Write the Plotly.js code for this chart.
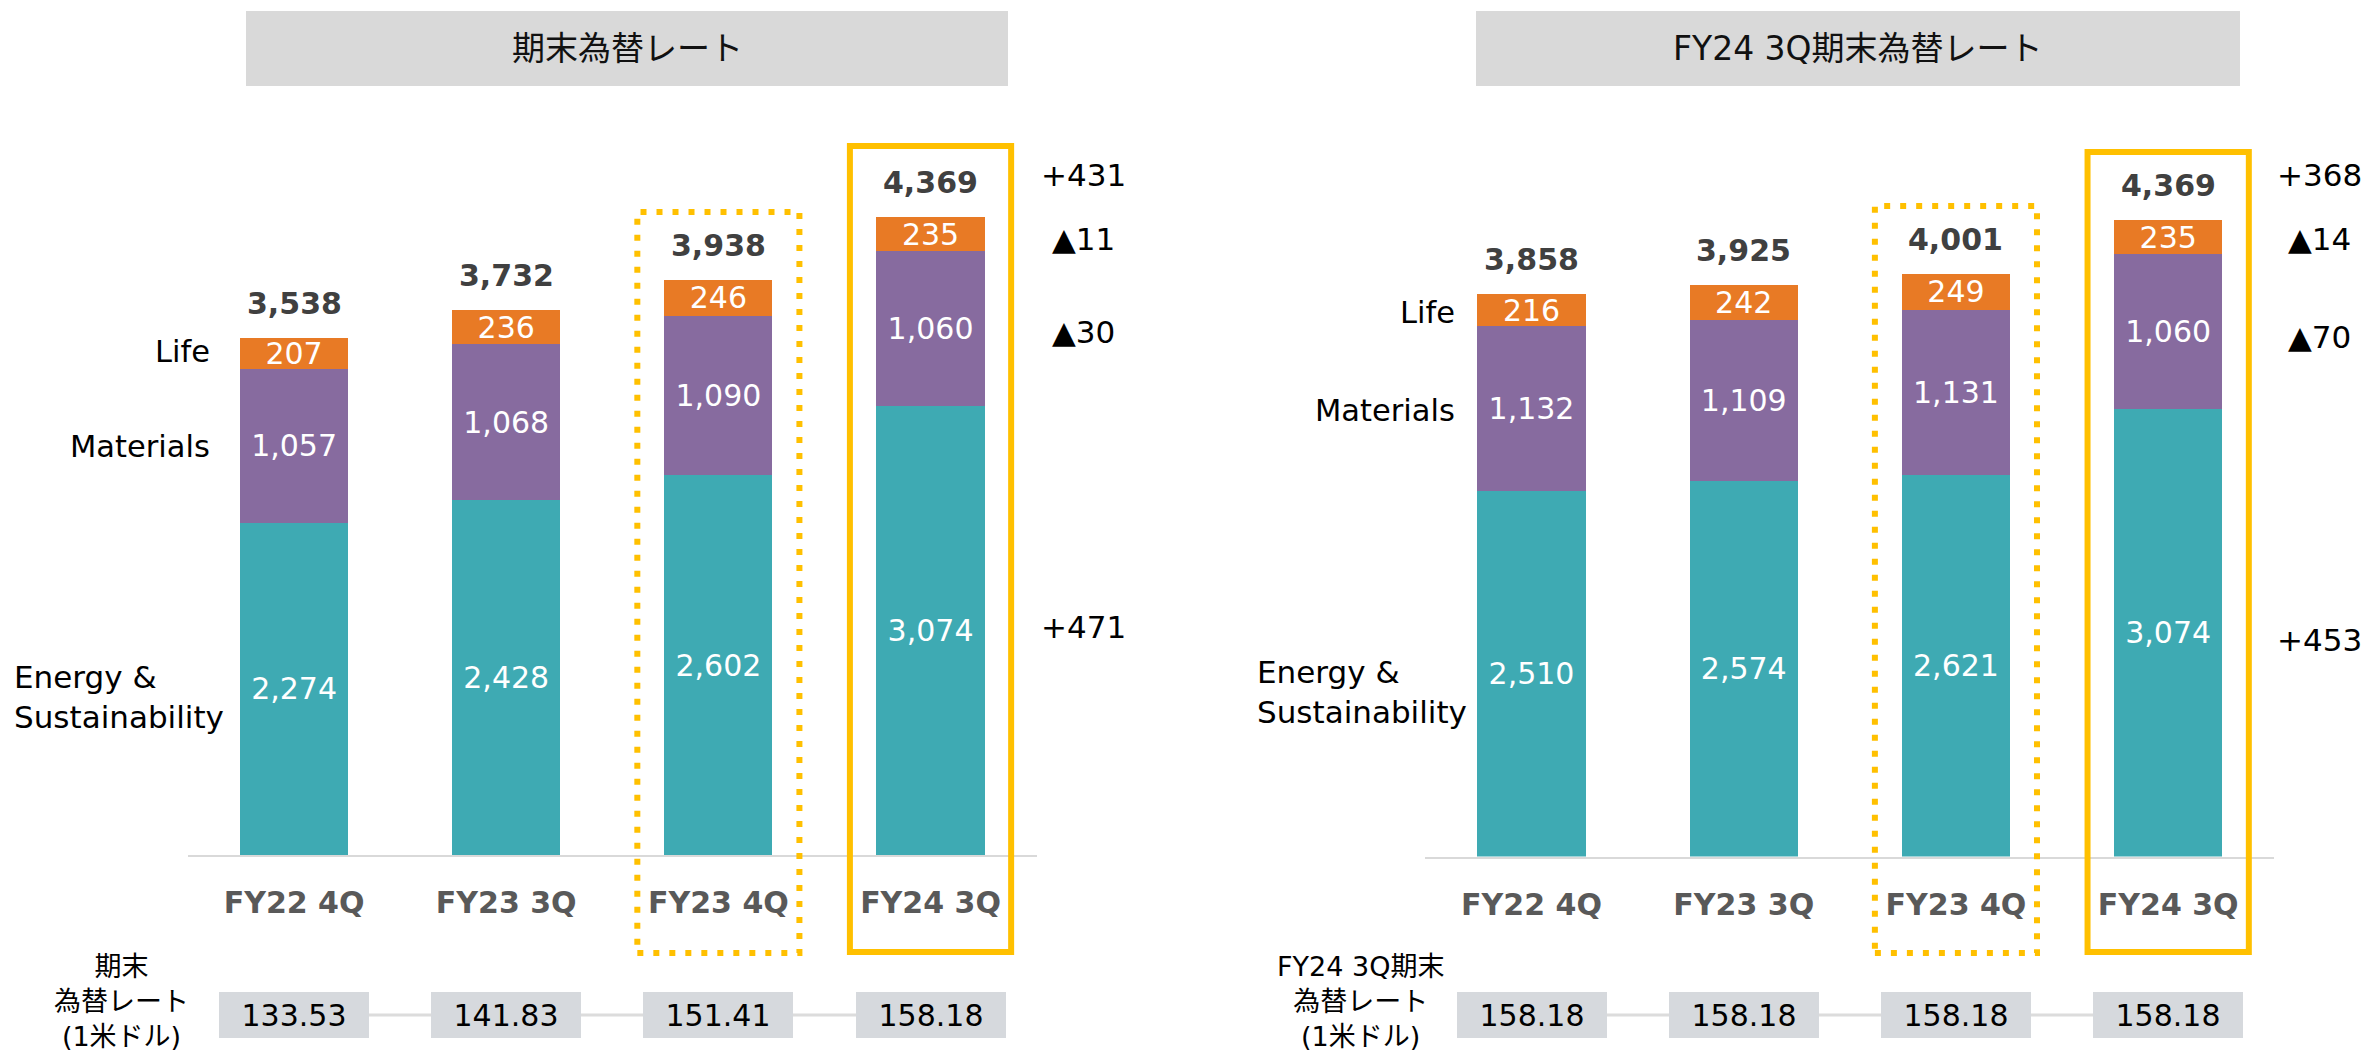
<!DOCTYPE html>
<html>
<head>
<meta charset="utf-8">
<script src="https://cdn.plot.ly/plotly-3.0.1.min.js"></script>
<style>
  html, body { margin: 0; padding: 0; background: #ffffff; }
  #chart { width: 2369px; height: 1052px; }
</style>
</head>
<body>
<div id="chart"></div>
<script>
// ---------------- DATA ----------------
const categories = ['FY22 4Q', 'FY23 3Q', 'FY23 4Q', 'FY24 3Q'];

// Left panel: 期末為替レート
const leftEnergy    = [2274, 2428, 2602, 3074];
const leftMaterials = [1057, 1068, 1090, 1060];
const leftLife      = [207, 236, 246, 235];
const leftTotals    = [3538, 3732, 3938, 4369];
const leftRates     = ['133.53', '141.83', '151.41', '158.18'];
const leftDeltas    = { total: '+431', life: '▲11', materials: '▲30', energy: '+471' };

// Right panel: FY24 3Q期末為替レート
const rightEnergy    = [2510, 2574, 2621, 3074];
const rightMaterials = [1132, 1109, 1131, 1060];
const rightLife      = [216, 242, 249, 235];
const rightTotals    = [3858, 3925, 4001, 4369];
const rightRates     = ['158.18', '158.18', '158.18', '158.18'];
const rightDeltas    = { total: '+368', life: '▲14', materials: '▲70', energy: '+453' };

const segmentNames = { life: 'Life', materials: 'Materials', energy: 'Energy &<br>Sustainability' };
const panelTitles  = ['期末為替レート', 'FY24 3Q期末為替レート'];
const rateLabels   = ['期末<br>為替レート<br>(1米ドル)', 'FY24 3Q期末<br>為替レート<br>(1米ドル)'];

// ---------------- STYLE ----------------
const W = 2369, H = 1052;
const FONT = "'DejaVu Sans', 'Noto Sans CJK JP', sans-serif";
const C_ENERGY = '#3EAAB3', C_MAT = '#876B9F', C_LIFE = '#E87A25';
const C_YELLOW = '#FFC000';
const fx = v => v / W;
const fy = v => 1 - v / H;
const fmt = v => v.toLocaleString('en-US');

function barTrace(vals, color, xa, ya) {
  return {
    type: 'bar', x: categories, y: vals, xaxis: xa, yaxis: ya,
    marker: { color: color, line: { width: 0 } },
    text: vals.map(fmt), textposition: 'inside', insidetextanchor: 'middle',
    textangle: 0, constraintext: 'none',
    textfont: { family: FONT, size: 30, color: '#ffffff' },
    hoverinfo: 'skip', showlegend: false
  };
}

const data = [
  barTrace(leftEnergy, C_ENERGY, 'x', 'y'),
  barTrace(leftMaterials, C_MAT, 'x', 'y'),
  barTrace(leftLife, C_LIFE, 'x', 'y'),
  barTrace(rightEnergy, C_ENERGY, 'x2', 'y2'),
  barTrace(rightMaterials, C_MAT, 'x2', 'y2'),
  barTrace(rightLife, C_LIFE, 'x2', 'y2')
];

const tickFont = { family: FONT, size: 30, color: '#595959', weight: 'bold' };
function xAxis(d0, d1, anchor) {
  return {
    domain: [fx(d0), fx(d1)], type: 'category', range: [-0.5, 3.5], anchor: anchor,
    showline: true, linecolor: '#D9D9D9', linewidth: 2, ticks: '',
    tickfont: tickFont, ticklabelstandoff: 20, showgrid: false, zeroline: false, fixedrange: true
  };
}
function yAxis(base, top, anchor) {
  return { domain: [fy(base), fy(top)], range: [0, 5000], visible: false, anchor: anchor, fixedrange: true };
}

const shapes = [];
const annotations = [];

const panels = [
  { xa: 'x', totals: leftTotals, rates: leftRates, deltas: leftDeltas,
    title: panelTitles[0], titleBox: [246, 1008], rateLabel: rateLabels[0], rateLabelX: 121,
    dottedTop: 212, solidTop: 146,
    deltaX: 1083, deltaY: { total: 175, life: 239, materials: 332, energy: 627 },
    nameRight: 212, nameY: { life: 351, materials: 446 }, energyX: 12, energyY: 697 },
  { xa: 'x2', totals: rightTotals, rates: rightRates, deltas: rightDeltas,
    title: panelTitles[1], titleBox: [1476, 2240], rateLabel: rateLabels[1], rateLabelX: 1360,
    dottedTop: 206, solidTop: 152,
    deltaX: 2319, deltaY: { total: 175, life: 239, materials: 337, energy: 640 },
    nameRight: 1457, nameY: { life: 312, materials: 410 }, energyX: 1255, energyY: 692 }
];

panels.forEach(p => {
  // title box
  shapes.push({ type: 'rect', xref: 'paper', yref: 'paper', x0: fx(p.titleBox[0]), x1: fx(p.titleBox[1]),
    y0: fy(86), y1: fy(11), fillcolor: '#D9D9D9', line: { width: 0 }, layer: 'below' });
  annotations.push({ xref: 'paper', yref: 'paper', x: fx((p.titleBox[0] + p.titleBox[1]) / 2), y: fy(48.5),
    text: p.title, showarrow: false, xanchor: 'center', yanchor: 'middle',
    font: { family: FONT, size: 33, color: '#111111' } });

  // highlight boxes
  shapes.push({ type: 'rect', xref: p.xa, yref: 'paper', x0: 2 - 0.382, x1: 2 + 0.382,
    y0: fy(953), y1: fy(p.dottedTop), line: { color: C_YELLOW, width: 6, dash: '6px,10px' }, fillcolor: 'rgba(0,0,0,0)' });
  shapes.push({ type: 'rect', xref: p.xa, yref: 'paper', x0: 3 - 0.38, x1: 3 + 0.38,
    y0: fy(952), y1: fy(p.solidTop), line: { color: C_YELLOW, width: 6 }, fillcolor: 'rgba(0,0,0,0)' });

  // rate connecting line
  shapes.push({ type: 'line', xref: p.xa, yref: 'paper', x0: 0, x1: 3, y0: fy(1015), y1: fy(1015),
    line: { color: '#DCDCDC', width: 3 }, layer: 'below' });

  // totals
  categories.forEach((c, i) => {
    annotations.push({ xref: p.xa, yref: p.xa === 'x' ? 'y' : 'y2', x: c, y: p.totals[i],
      text: fmt(p.totals[i]), showarrow: false, xanchor: 'center', yanchor: 'bottom', yshift: 15,
      font: { family: FONT, size: 30, color: '#404040', weight: 'bold' } });
    // rate boxes
    annotations.push({ xref: p.xa, yref: 'paper', x: c, y: fy(1015), text: p.rates[i], showarrow: false,
      xanchor: 'center', yanchor: 'middle', width: 150, height: 46, bgcolor: '#D6D9DD', borderpad: 0,
      borderwidth: 0, font: { family: FONT, size: 30, color: '#000000' } });
  });

  // deltas
  ['total', 'life', 'materials', 'energy'].forEach(k => {
    annotations.push({ xref: 'paper', yref: 'paper', x: fx(p.deltaX), y: fy(p.deltaY[k]), text: p.deltas[k],
      showarrow: false, xanchor: 'center', yanchor: 'middle',
      font: { family: FONT, size: 31, color: '#000000' } });
  });

  // segment names
  ['life', 'materials'].forEach(k => {
    annotations.push({ xref: 'paper', yref: 'paper', x: fx(p.nameRight), y: fy(p.nameY[k]), text: segmentNames[k],
      showarrow: false, xanchor: 'right', yanchor: 'middle', font: { family: FONT, size: 30.5, color: '#000000' } });
  });
  annotations.push({ xref: 'paper', yref: 'paper', x: fx(p.energyX), y: fy(p.energyY), text: segmentNames.energy,
    showarrow: false, xanchor: 'left', yanchor: 'middle', align: 'left',
    font: { family: FONT, size: 31, color: '#000000' } });

  // rate row label
  annotations.push({ xref: 'paper', yref: 'paper', x: fx(p.rateLabelX), y: fy(1001), text: p.rateLabel,
    showarrow: false, xanchor: 'center', yanchor: 'middle', align: 'center',
    font: { family: FONT, size: 27, color: '#000000' } });
});

const layout = {
  width: W, height: H,
  margin: { l: 0, r: 0, t: 0, b: 0, pad: 0 },
  paper_bgcolor: '#ffffff', plot_bgcolor: 'rgba(0,0,0,0)',
  barmode: 'stack', bargap: 0.49,
  showlegend: false,
  xaxis: xAxis(188, 1036.6, 'y'),
  yaxis: yAxis(855, 124.85, 'x'),
  xaxis2: xAxis(1425.4, 2274.3, 'y2'),
  yaxis2: yAxis(856.5, 128.05, 'x2'),
  shapes: shapes,
  annotations: annotations,
  font: { family: FONT }
};

Plotly.newPlot('chart', data, layout, { staticPlot: true, displayModeBar: false });
</script>
</body>
</html>
